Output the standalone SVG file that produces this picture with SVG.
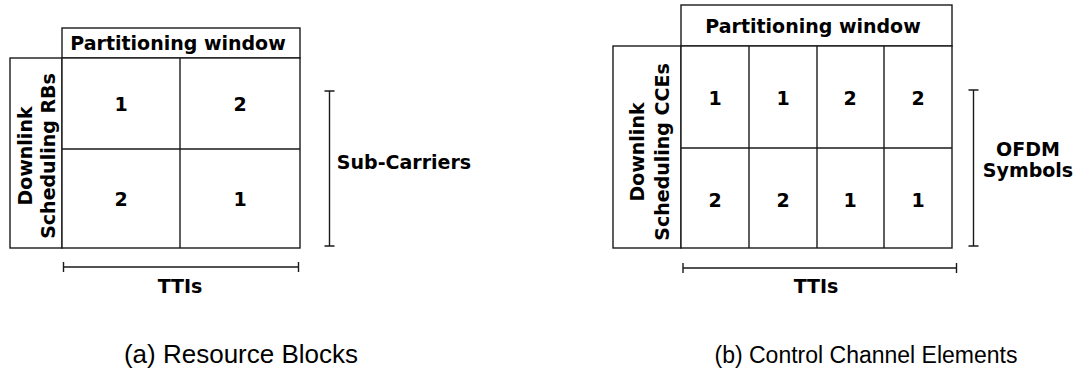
<svg xmlns="http://www.w3.org/2000/svg" width="1083" height="374" viewBox="0 0 1083 374">
<style>
.box{fill:#fff;stroke:#1a1a1a;stroke-width:1.4}
.ln{stroke:#1a1a1a;stroke-width:1.4;fill:none}
.b{font-family:"DejaVu Sans",sans-serif;font-weight:bold;font-size:19px;fill:#000;text-anchor:middle;dominant-baseline:central}
.cap{font-family:"Liberation Sans",Arial,sans-serif;fill:#000;text-anchor:middle}
</style>
<rect width="1083" height="374" fill="#fff"/>
<g id="diagram-a">
  <g id="a-header"><rect class="box" x="62" y="28" width="238" height="30"/><text class="b" x="178" y="43">Partitioning window</text></g>
  <g id="a-label"><rect class="box" x="10" y="58" width="52" height="190"/>
    <text class="b" transform="translate(25,156) rotate(-90)">Downlink</text>
    <text class="b" transform="translate(48,156) rotate(-90)">Scheduling RBs</text></g>
  <g id="a-grid"><rect class="box" x="62" y="58" width="238" height="190"/>
    <line class="ln" x1="180" y1="58" x2="180" y2="248"/>
    <line class="ln" x1="62" y1="149" x2="300" y2="149"/>
    <text class="b" x="121" y="104">1</text><text class="b" x="240" y="104">2</text>
    <text class="b" x="121" y="199">2</text><text class="b" x="240" y="199">1</text></g>
  <g id="a-axes">
    <path class="ln" d="M329.5 91V246M324.5 91H334.5M324.5 246H334.5"/>
    <text class="b" x="404" y="162">Sub-Carriers</text>
    <path class="ln" d="M63.5 267H298.5M63.5 262V272M298.5 262V272"/>
    <text class="b" x="180" y="286">TTIs</text>
  </g>
  <text class="cap" x="241" y="363" font-size="26">(a) Resource Blocks</text>
</g>
<g id="diagram-b">
  <g id="b-header"><rect class="box" x="681" y="5" width="271" height="41"/><text class="b" x="813" y="26">Partitioning window</text></g>
  <g id="b-label"><rect class="box" x="613" y="46" width="68" height="202"/>
    <text class="b" transform="translate(637,152) rotate(-90)">Downlink</text>
    <text class="b" transform="translate(662,152) rotate(-90)">Scheduling CCEs</text></g>
  <g id="b-grid"><rect class="box" x="681" y="46" width="271" height="202"/>
    <line class="ln" x1="749" y1="46" x2="749" y2="248"/>
    <line class="ln" x1="817" y1="46" x2="817" y2="248"/>
    <line class="ln" x1="884" y1="46" x2="884" y2="248"/>
    <line class="ln" x1="681" y1="148" x2="952" y2="148"/>
    <text class="b" x="715" y="98">1</text><text class="b" x="783" y="98">1</text>
    <text class="b" x="850" y="98">2</text><text class="b" x="918" y="98">2</text>
    <text class="b" x="715" y="200">2</text><text class="b" x="783" y="200">2</text>
    <text class="b" x="850" y="200">1</text><text class="b" x="918" y="200">1</text></g>
  <g id="b-axes">
    <path class="ln" d="M973.5 90V246M968.5 90H978.5M968.5 246H978.5"/>
    <text class="b" x="1028" y="149">OFDM</text>
    <text class="b" x="1028" y="170">Symbols</text>
    <path class="ln" d="M683 268H956.5M683 263V273M956.5 263V273"/>
    <text class="b" x="816" y="286">TTIs</text>
  </g>
  <text class="cap" x="866" y="363" font-size="23">(b) Control Channel Elements</text>
</g>
</svg>
